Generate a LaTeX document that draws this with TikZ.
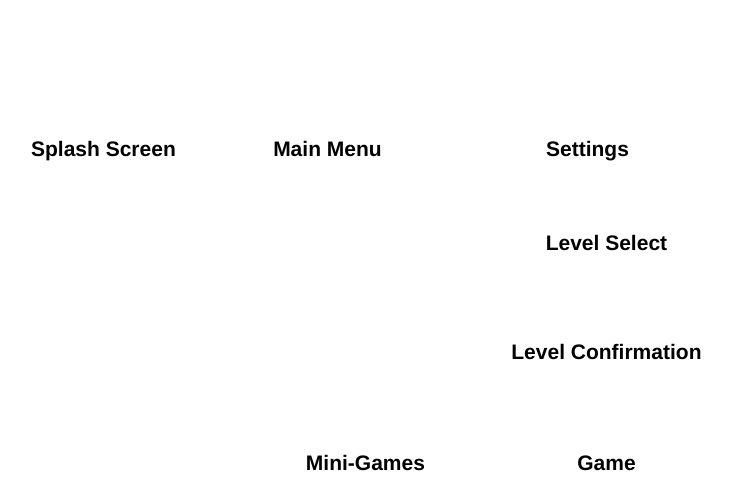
\documentclass[tikz,border=0pt]{standalone}
\usepackage{fontspec}
\setmainfont{Liberation Sans}
\begin{document}
\begin{tikzpicture}[x=1pt,y=-1pt,
  lbl/.style={font=\fontsize{21}{25}\selectfont\bfseries, inner sep=0pt, anchor=base}]
\useasboundingbox[fill=white] (0,0) rectangle (734,494);
\node[lbl] (splash) at (103.5,157) {Splash Screen};
\node[lbl] (main) at (327.5,157) {Main Menu};
\node[lbl] (settings) at (587.5,157) {Settings};
\node[lbl] (levelsel) at (606.5,251) {Level Select};
\node[lbl] (levelconf) at (606.5,360) {Level Confirmation};
\node[lbl] (mini) at (365.5,470) {Mini-Games};
\node[lbl] (game) at (606.5,470) {Game};
\end{tikzpicture}
\end{document}
